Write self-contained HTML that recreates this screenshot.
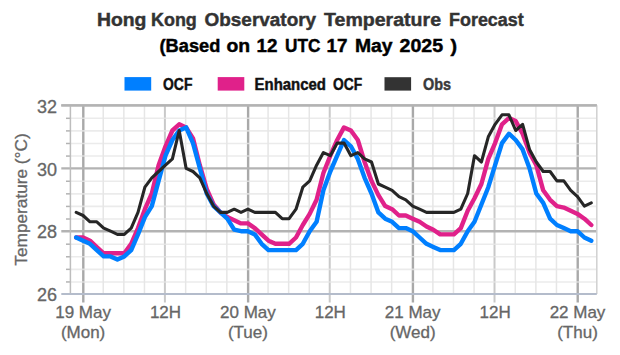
<!DOCTYPE html>
<html><head><meta charset="utf-8"><style>
html,body{margin:0;padding:0;background:#fff;}
body{width:620px;height:355px;overflow:hidden;}
svg{display:block;}
.mn{stroke:#e6e6e6;stroke-width:1.5;}
.mnh{stroke:#e6e6e6;stroke-width:1.6;stroke-opacity:0.8;}
.mj{stroke:#b3b3b3;stroke-width:2.3;}
.dy{stroke:#a9a9a9;stroke-width:2.4;}
.hd{stroke:#c9c9c9;stroke-width:2;}
.tk{stroke:#b3b3b3;stroke-width:1.5;}
.yl{font-family:"Liberation Sans",sans-serif;font-size:18px;fill:#666;stroke:#666;stroke-width:0.3;text-anchor:end;}
.xl{font-family:"Liberation Sans",sans-serif;font-size:17px;fill:#666;stroke:#666;stroke-width:0.3;text-anchor:middle;}
.tt{font-family:"Liberation Sans",sans-serif;font-weight:bold;}
</style></head><body>
<svg width="620" height="355" viewBox="0 0 620 355">
<rect width="620" height="355" fill="#fff"/>
<text x="96.96" y="25.8" class="tt" font-size="18.8" fill="#333" stroke="#333" stroke-width="0.45" textLength="49.47" lengthAdjust="spacingAndGlyphs">Hong</text><text x="150.99" y="25.8" class="tt" font-size="18.8" fill="#333" stroke="#333" stroke-width="0.45" textLength="45.81" lengthAdjust="spacingAndGlyphs">Kong</text><text x="204.49" y="25.8" class="tt" font-size="18.8" fill="#333" stroke="#333" stroke-width="0.45" textLength="111.66" lengthAdjust="spacingAndGlyphs">Observatory</text><text x="324.02" y="25.8" class="tt" font-size="18.8" fill="#333" stroke="#333" stroke-width="0.45" textLength="117.01" lengthAdjust="spacingAndGlyphs">Temperature</text><text x="449.06" y="25.8" class="tt" font-size="18.8" fill="#333" stroke="#333" stroke-width="0.45" textLength="74.64" lengthAdjust="spacingAndGlyphs">Forecast</text><text x="159.50" y="51.6" class="tt" font-size="18.8" fill="#000" stroke="#000" stroke-width="0.45" textLength="60.82" lengthAdjust="spacingAndGlyphs">(Based</text><text x="226.46" y="51.6" class="tt" font-size="18.8" fill="#000" stroke="#000" stroke-width="0.45" textLength="23.67" lengthAdjust="spacingAndGlyphs">on</text><text x="256.46" y="51.6" class="tt" font-size="18.8" fill="#000" stroke="#000" stroke-width="0.45" textLength="20.94" lengthAdjust="spacingAndGlyphs">12</text><text x="285.04" y="51.6" class="tt" font-size="18.8" fill="#000" stroke="#000" stroke-width="0.45" textLength="35.37" lengthAdjust="spacingAndGlyphs">UTC</text><text x="326.46" y="51.6" class="tt" font-size="18.8" fill="#000" stroke="#000" stroke-width="0.45" textLength="20.94" lengthAdjust="spacingAndGlyphs">17</text><text x="354.98" y="51.6" class="tt" font-size="18.8" fill="#000" stroke="#000" stroke-width="0.45" textLength="37.60" lengthAdjust="spacingAndGlyphs">May</text><text x="399.47" y="51.6" class="tt" font-size="18.8" fill="#000" stroke="#000" stroke-width="0.45" textLength="43.63" lengthAdjust="spacingAndGlyphs">2025</text><text x="450.44" y="51.6" class="tt" font-size="18.8" fill="#000" stroke="#000" stroke-width="0.45" textLength="6.57" lengthAdjust="spacingAndGlyphs">)</text><text x="163.07" y="90.2" class="tt" font-size="16" fill="#111" stroke="#111" stroke-width="0.45" textLength="29.31" lengthAdjust="spacingAndGlyphs">OCF</text><text x="254.56" y="90.2" class="tt" font-size="16" fill="#111" stroke="#111" stroke-width="0.45" textLength="71.37" lengthAdjust="spacingAndGlyphs">Enhanced</text><text x="333.12" y="90.2" class="tt" font-size="16" fill="#111" stroke="#111" stroke-width="0.45" textLength="29.09" lengthAdjust="spacingAndGlyphs">OCF</text><text x="423.03" y="90.2" class="tt" font-size="16" fill="#3a3a3a" stroke="#3a3a3a" stroke-width="0.45" textLength="28.09" lengthAdjust="spacingAndGlyphs">Obs</text>
<rect x="124.5" y="77.1" width="26.7" height="13.5" fill="#007fff"/>
<rect x="217.7" y="77.1" width="26.6" height="13.5" fill="#e0218a"/>
<rect x="384.5" y="77.2" width="26.6" height="13.4" fill="#333"/>
<line x1="103.25" y1="105.3" x2="103.25" y2="294.0" class="mn"/><line x1="123.85" y1="105.3" x2="123.85" y2="294.0" class="mn"/><line x1="144.45" y1="105.3" x2="144.45" y2="294.0" class="mn"/><line x1="185.66" y1="105.3" x2="185.66" y2="294.0" class="mn"/><line x1="206.26" y1="105.3" x2="206.26" y2="294.0" class="mn"/><line x1="226.86" y1="105.3" x2="226.86" y2="294.0" class="mn"/><line x1="268.06" y1="105.3" x2="268.06" y2="294.0" class="mn"/><line x1="288.66" y1="105.3" x2="288.66" y2="294.0" class="mn"/><line x1="309.26" y1="105.3" x2="309.26" y2="294.0" class="mn"/><line x1="350.46" y1="105.3" x2="350.46" y2="294.0" class="mn"/><line x1="371.06" y1="105.3" x2="371.06" y2="294.0" class="mn"/><line x1="391.67" y1="105.3" x2="391.67" y2="294.0" class="mn"/><line x1="432.87" y1="105.3" x2="432.87" y2="294.0" class="mn"/><line x1="453.47" y1="105.3" x2="453.47" y2="294.0" class="mn"/><line x1="474.07" y1="105.3" x2="474.07" y2="294.0" class="mn"/><line x1="515.27" y1="105.3" x2="515.27" y2="294.0" class="mn"/><line x1="535.87" y1="105.3" x2="535.87" y2="294.0" class="mn"/><line x1="556.47" y1="105.3" x2="556.47" y2="294.0" class="mn"/>
<line x1="83.30" y1="105.3" x2="83.30" y2="302.5" class="dy"/><line x1="164.90" y1="105.3" x2="164.90" y2="302.5" class="hd"/><line x1="248.11" y1="105.3" x2="248.11" y2="302.5" class="dy"/><line x1="329.71" y1="105.3" x2="329.71" y2="302.5" class="hd"/><line x1="412.92" y1="105.3" x2="412.92" y2="302.5" class="dy"/><line x1="494.52" y1="105.3" x2="494.52" y2="302.5" class="hd"/><line x1="577.72" y1="105.3" x2="577.72" y2="302.5" class="dy"/>
<line x1="70.4" y1="281.95" x2="596.8" y2="281.95" class="mnh"/><line x1="70.4" y1="269.36" x2="596.8" y2="269.36" class="mnh"/><line x1="70.4" y1="256.78" x2="596.8" y2="256.78" class="mnh"/><line x1="70.4" y1="244.19" x2="596.8" y2="244.19" class="mnh"/><line x1="70.4" y1="219.01" x2="596.8" y2="219.01" class="mnh"/><line x1="70.4" y1="206.42" x2="596.8" y2="206.42" class="mnh"/><line x1="70.4" y1="193.84" x2="596.8" y2="193.84" class="mnh"/><line x1="70.4" y1="181.25" x2="596.8" y2="181.25" class="mnh"/><line x1="70.4" y1="156.07" x2="596.8" y2="156.07" class="mnh"/><line x1="70.4" y1="143.48" x2="596.8" y2="143.48" class="mnh"/><line x1="70.4" y1="130.90" x2="596.8" y2="130.90" class="mnh"/><line x1="70.4" y1="118.31" x2="596.8" y2="118.31" class="mnh"/>
<line x1="66" y1="281.95" x2="70.4" y2="281.95" class="tk"/><line x1="66" y1="269.36" x2="70.4" y2="269.36" class="tk"/><line x1="66" y1="256.78" x2="70.4" y2="256.78" class="tk"/><line x1="66" y1="244.19" x2="70.4" y2="244.19" class="tk"/><line x1="66" y1="219.01" x2="70.4" y2="219.01" class="tk"/><line x1="66" y1="206.42" x2="70.4" y2="206.42" class="tk"/><line x1="66" y1="193.84" x2="70.4" y2="193.84" class="tk"/><line x1="66" y1="181.25" x2="70.4" y2="181.25" class="tk"/><line x1="66" y1="156.07" x2="70.4" y2="156.07" class="tk"/><line x1="66" y1="143.48" x2="70.4" y2="143.48" class="tk"/><line x1="66" y1="130.90" x2="70.4" y2="130.90" class="tk"/><line x1="66" y1="118.31" x2="70.4" y2="118.31" class="tk"/>
<line x1="61.3" y1="105.37" x2="596.8" y2="105.37" class="mj"/><line x1="61.3" y1="168.31" x2="596.8" y2="168.31" class="mj"/><line x1="61.3" y1="231.25" x2="596.8" y2="231.25" class="mj"/>
<line x1="70.4" y1="105.3" x2="70.4" y2="294.0" stroke="#bdbdbd" stroke-width="1.5"/>
<line x1="596.8" y1="105.3" x2="596.8" y2="294.0" stroke="#d0d0d0" stroke-width="1.5"/>
<line x1="61.3" y1="105.3" x2="596.8" y2="105.3" class="mj"/>
<line x1="61.3" y1="294.0" x2="596.8" y2="294.0" stroke="#b4bccb" stroke-width="2"/>
<text x="57" y="112.6" class="yl">32</text><text x="57" y="175.5" class="yl">30</text><text x="57" y="238.4" class="yl">28</text><text x="57" y="301.4" class="yl">26</text>
<text transform="translate(27.2,199.5) rotate(-90)" class="xl" style="font-size:17px" textLength="132.3" lengthAdjust="spacingAndGlyphs">Temperature (°C)</text>
<text x="83.1" y="318.3" class="xl">19 May</text><text x="83.1" y="337.6" class="xl">(Mon)</text><text x="165.5" y="318.3" class="xl">12H</text><text x="247.9" y="318.3" class="xl">20 May</text><text x="247.9" y="337.6" class="xl">(Tue)</text><text x="330.3" y="318.3" class="xl">12H</text><text x="412.7" y="318.3" class="xl">21 May</text><text x="412.7" y="337.6" class="xl">(Wed)</text><text x="495.1" y="318.3" class="xl">12H</text><text x="577.5" y="318.3" class="xl">22 May</text><text x="577.5" y="337.6" class="xl">(Thu)</text>
<g fill="none" stroke-linejoin="round" stroke-linecap="round">
<path d="M76.2,237.5 L83.1,237.5 L90.0,240.7 L96.8,247.0 L103.7,253.3 L110.6,253.3 L117.4,253.3 L124.3,253.3 L131.2,243.8 L138.0,228.1 L144.9,209.2 L151.8,193.5 L158.6,165.2 L165.5,146.3 L172.4,130.5 L179.2,124.3 L186.1,127.4 L193.0,138.4 L199.8,165.2 L206.7,188.8 L213.6,204.5 L220.4,212.4 L227.3,217.1 L234.2,220.2 L241.0,223.4 L247.9,223.4 L254.8,228.1 L261.6,234.4 L268.5,240.7 L275.4,243.8 L282.2,243.8 L289.1,243.8 L296.0,237.5 L302.8,225.0 L309.7,213.9 L316.6,199.8 L323.4,173.0 L330.3,155.7 L337.2,140.0 L344.0,127.4 L350.9,130.5 L357.8,140.0 L364.6,162.0 L371.5,180.9 L378.4,195.1 L385.2,206.1 L392.1,209.2 L399.0,215.5 L405.8,215.5 L412.7,218.7 L419.6,221.8 L426.5,226.5 L433.3,229.7 L440.2,234.4 L447.1,234.4 L453.9,234.4 L460.8,228.1 L467.7,210.8 L474.5,198.2 L481.4,184.0 L488.3,158.9 L495.1,143.1 L502.0,124.3 L508.9,118.0 L515.7,121.1 L522.6,133.7 L529.5,152.6 L536.3,165.2 L543.2,190.3 L550.1,199.8 L556.9,206.1 L563.8,207.6 L570.7,210.8 L577.5,213.9 L584.4,218.7 L591.3,225.0" stroke="#e0218a" stroke-width="4.4"/>
<path d="M76.2,237.5 L83.1,240.7 L90.0,243.8 L96.8,250.1 L103.7,256.4 L110.6,256.4 L117.4,259.6 L124.3,256.4 L131.2,250.1 L138.0,234.4 L144.9,217.1 L151.8,206.1 L158.6,180.9 L165.5,155.7 L172.4,140.0 L179.2,130.5 L186.1,127.4 L193.0,143.1 L199.8,168.3 L206.7,193.5 L213.6,206.1 L220.4,212.4 L227.3,218.7 L234.2,229.7 L241.0,231.2 L247.9,231.2 L254.8,234.4 L261.6,243.8 L268.5,250.1 L275.4,250.1 L282.2,250.1 L289.1,250.1 L296.0,250.1 L302.8,243.8 L309.7,231.2 L316.6,221.8 L323.4,190.3 L330.3,171.5 L337.2,155.7 L344.0,140.0 L350.9,146.3 L357.8,158.9 L364.6,177.8 L371.5,193.5 L378.4,212.4 L385.2,218.7 L392.1,221.8 L399.0,228.1 L405.8,228.1 L412.7,231.2 L419.6,237.5 L426.5,243.8 L433.3,247.0 L440.2,250.1 L447.1,250.1 L453.9,250.1 L460.8,243.8 L467.7,231.2 L474.5,221.8 L481.4,204.5 L488.3,187.2 L495.1,165.2 L502.0,143.1 L508.9,133.7 L515.7,140.0 L522.6,149.4 L529.5,168.3 L536.3,193.5 L543.2,202.9 L550.1,218.7 L556.9,225.0 L563.8,228.1 L570.7,231.2 L577.5,231.2 L584.4,237.5 L591.3,240.7" stroke="#007fff" stroke-width="4.4"/>
<path d="M76.2,212.4 L83.1,215.5 L90.0,221.8 L96.8,221.8 L103.7,228.1 L110.6,231.2 L117.4,234.4 L124.3,234.4 L131.2,228.1 L138.0,212.4 L144.9,187.2 L151.8,177.8 L158.6,171.5 L165.5,165.2 L172.4,158.9 L179.2,130.5 L186.1,168.3 L193.0,171.5 L199.8,177.8 L206.7,193.5 L213.6,206.1 L220.4,212.4 L227.3,212.4 L234.2,209.2 L241.0,212.4 L247.9,209.2 L254.8,212.4 L261.6,212.4 L268.5,212.4 L275.4,212.4 L282.2,218.7 L289.1,218.7 L296.0,209.2 L302.8,187.2 L309.7,180.9 L316.6,165.2 L323.4,152.6 L330.3,155.7 L337.2,143.1 L344.0,143.1 L350.9,155.7 L357.8,152.6 L364.6,158.9 L371.5,162.0 L378.4,184.0 L385.2,187.2 L392.1,190.3 L399.0,196.6 L405.8,199.8 L412.7,206.1 L419.6,209.2 L426.5,212.4 L433.3,212.4 L440.2,212.4 L447.1,212.4 L453.9,212.4 L460.8,209.2 L467.7,193.5 L474.5,155.7 L481.4,162.0 L488.3,136.8 L495.1,124.3 L502.0,114.8 L508.9,114.8 L515.7,130.5 L522.6,124.3 L529.5,149.4 L536.3,162.0 L543.2,171.5 L550.1,171.5 L556.9,180.9 L563.8,180.9 L570.7,190.3 L577.5,196.6 L584.4,206.1 L591.3,202.9" stroke="#262626" stroke-width="3.1"/>
</g>
</svg>
</body></html>
